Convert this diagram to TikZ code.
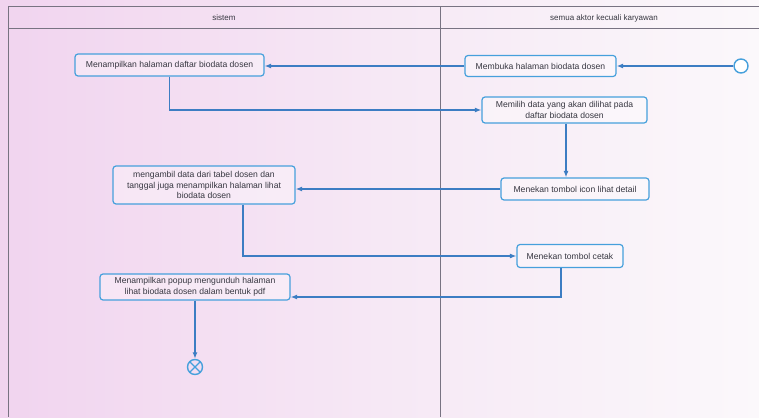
\documentclass[tikz,border=0pt]{standalone}
\usepackage{fontspec}
\setmainfont{Liberation Sans}
\usetikzlibrary{arrows.meta,calc}
\definecolor{boxblue}{RGB}{70,160,220}
\definecolor{lineblue}{RGB}{60,125,195}
\definecolor{framegray}{RGB}{120,115,130}
\definecolor{txt}{RGB}{55,55,65}
\definecolor{bgpink}{RGB}{241,212,239}
\definecolor{bgmid}{RGB}{246,232,245}
\definecolor{bgwhite}{RGB}{251,248,251}
\tikzset{
  act/.style={draw=boxblue, line width=1.2pt, rounded corners=3pt, fill=white, fill opacity=0.35, text opacity=1,
    font=\fontsize{8.6}{10.5}\selectfont, text=txt, align=center, inner sep=0pt},
  flow/.style={draw=lineblue, line width=1.3pt, -{Latex[length=6.5pt,width=5pt]}},
  startnode/.style={circle, draw=boxblue, line width=1.4pt, minimum size=14pt, inner sep=0pt, fill=white},
  endnode/.style={circle, draw=boxblue, line width=1.4pt, minimum size=15pt, inner sep=0pt,
    path picture={\draw[boxblue, line width=1.2pt] (path picture bounding box.north west) -- (path picture bounding box.south east)
      (path picture bounding box.north east) -- (path picture bounding box.south west);}},
  lanehead/.style={font=\fontsize{8}{10}\selectfont, text=txt},
  frame/.style={draw=framegray, line width=1pt}
}
\begin{document}
\begin{tikzpicture}[x=1pt,y=-1pt]
\useasboundingbox (0,0) rectangle (759,417);
\shade[left color=bgpink, right color=bgwhite, middle color=bgmid] (0,0) rectangle (759,417);
% swimlane frame
\coordinate (tl) at (8,7);
\coordinate (tr) at (759,7);
\coordinate (hl) at (8,29);
\coordinate (hr) at (759,29);
\coordinate (bl) at (8,417);
\coordinate (dt) at (440,7);
\coordinate (db) at (440,417);
\draw[frame] (tr) -- (tl) -- (bl);
\draw[frame] (hl) -- (hr);
\draw[frame] (dt) -- (db);
\node[lanehead] (lane1) at (224,18) {sistem};
\node[lanehead] (lane2) at (604,18) {semua aktor kecuali karyawan};
% activities
\node[act, minimum width=189pt, minimum height=22pt] (A) at (169.5,65) {Menampilkan halaman daftar biodata dosen};
\node[act, minimum width=151pt, minimum height=21pt] (B) at (540.5,66) {Membuka halaman biodata dosen};
\node[startnode] (S) at (741,66) {};
\node[act, minimum width=165pt, minimum height=26pt] (C) at (564.5,110) {Memilih data yang akan dilihat pada\\daftar biodata dosen};
\node[act, minimum width=148pt, minimum height=22pt] (D) at (575,189) {Menekan tombol icon lihat detail};
\node[act, minimum width=182pt, minimum height=38pt] (E) at (204,185) {mengambil data dari tabel dosen dan\\tanggal juga menampilkan halaman lihat\\biodata dosen};
\node[act, minimum width=106pt, minimum height=23pt] (F) at (570,256) {Menekan tombol cetak};
\node[act, minimum width=190pt, minimum height=26pt] (G) at (195,287) {Menampilkan popup mengunduh halaman\\lihat biodata dosen dalam bentuk pdf};
\node[endnode] (X) at (195,367) {};
% connector anchor points
\coordinate (c1) at ($(C.south)+(1.5,0)$);
\coordinate (e1) at ($(E.south)+(39,0)$);
\coordinate (f1) at ($(F.south)+(-9,0)$);
\coordinate (g1) at ($(G.east)+(0,10)$);
% flows
\draw[flow] (S.west) -- (S.west -| B.east);
\draw[flow] (B.west) -- (B.west -| A.east);
\draw[flow] (A.south) |- (C.west);
\draw[flow] (c1) -- (c1 |- D.north);
\draw[flow] (D.west) -- (D.west -| E.east);
\draw[flow] (e1) |- (F.west);
\draw[flow] (f1) |- (g1);
\draw[flow] (G.south) -- (X.north);
\end{tikzpicture}
\end{document}
